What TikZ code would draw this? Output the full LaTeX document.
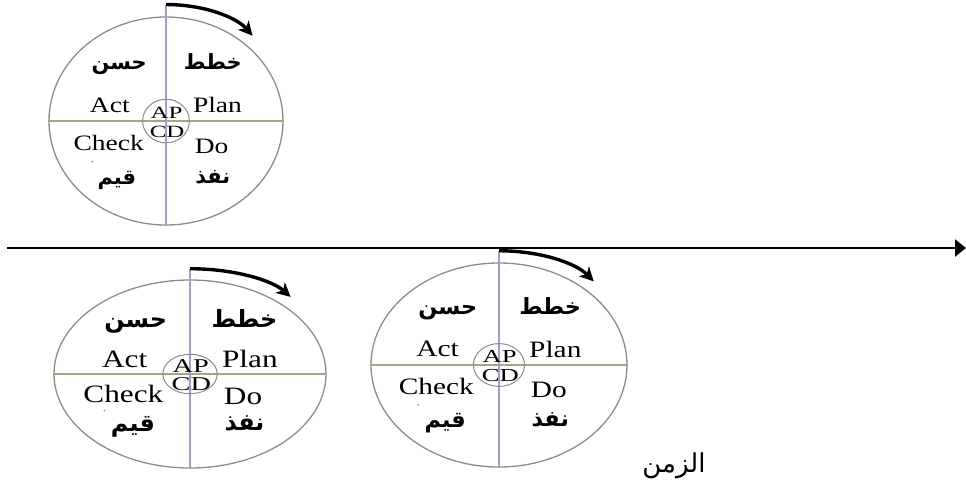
\documentclass[tikz,border=0pt]{standalone}
\usepackage{fontspec}
\usepackage{graphicx}
\usetikzlibrary{shapes.geometric,arrows.meta}
\setmainfont{Liberation Serif}
\newfontfamily\arabicfont[Script=Arabic]{DejaVu Sans}
\TeXXeTstate=1

\definecolor{rimgray}{RGB}{140,140,140}
\definecolor{axisolive}{RGB}{168,164,132}
\definecolor{axislilac}{RGB}{158,158,200}

\tikzset{
  rim/.style={ellipse, draw=rimgray, line width=1.3pt, inner sep=0pt},
  hub/.style={ellipse, draw=rimgray, line width=1pt, inner sep=0pt},
  hline/.style={draw=axisolive, line width=1.2pt},
  vline/.style={draw=axislilac, line width=1.3pt},
  turn/.style={line width=3.4pt, -{Stealth[length=14pt,width=14pt,inset=4pt]}},
  timeaxis/.style={line width=2.6pt, -{Triangle[length=11pt,width=17pt]}},
  word/.style={inner sep=0pt},
  arword/.style={inner sep=0pt, anchor=base},
}

% one Plan-Do-Check-Act wheel: name, centre x, centre y, radius x, radius y, font size
\newcommand\pdcawheel[6]{%
  \pgfmathsetmacro\pdcahubsize{0.78*#6}%
  \pgfmathsetmacro\pdcaarsize{0.95*#6}%
  \node[rim, minimum width={2*#4pt}, minimum height={2*#5pt}] (#1) at (#2,#3) {};
  \coordinate (#1-top) at (#2,{#3-1.12*#5});
  \coordinate (#1-tip) at ({#2+0.74*#4},{#3-0.82*#5});
  \draw[hline] (#1.west) -- (#1.east);
  \draw[vline] (#1-top) -- (#1.south);
  \draw[turn] (#1-top) .. controls ({#2+0.32*#4},{#3-1.12*#5}) and ({#2+0.6*#4},{#3-1.0*#5}) .. (#1-tip);
  \node[hub, minimum width={0.4*#4pt}, minimum height={0.42*#5pt}] (#1-hub) at (#1) {};
  \node[word, font=\fontsize{\pdcahubsize}{#6}\selectfont] (#1-ap) at ({#2+0.005*#4},{#3-0.082*#5}) {\scalebox{1.45}[1]{AP}};
  \node[word, font=\fontsize{\pdcahubsize}{#6}\selectfont] (#1-cd) at ({#2+0.01*#4},{#3+0.105*#5}) {\scalebox{1.45}[1]{CD}};
  \node[word, font=\fontsize{#6}{#6}\selectfont] (#1-act) at ({#2-0.48*#4},{#3-0.155*#5}) {\scalebox{1.25}[1]{Act}};
  \node[word, font=\fontsize{#6}{#6}\selectfont] (#1-plan) at ({#2+0.44*#4},{#3-0.155*#5}) {\scalebox{1.25}[1]{Plan}};
  \node[word, font=\fontsize{#6}{#6}\selectfont] (#1-check) at ({#2-0.49*#4},{#3+0.215*#5}) {\scalebox{1.25}[1]{Check}};
  \node[word, font=\fontsize{#6}{#6}\selectfont] (#1-do) at ({#2+0.39*#4},{#3+0.24*#5}) {\scalebox{1.25}[1]{Do}};
  \node[arword, font=\arabicfont\bfseries\fontsize{\pdcaarsize}{#6}\selectfont] (#1-ar-act) at ({#2-0.40*#4},{#3-0.50*#5}) {\beginR حسن\endR};
  \node[arword, font=\arabicfont\bfseries\fontsize{\pdcaarsize}{#6}\selectfont] (#1-ar-plan) at ({#2+0.40*#4},{#3-0.50*#5}) {\beginR خطط\endR};
  \node[arword, font=\arabicfont\bfseries\fontsize{\pdcaarsize}{#6}\selectfont] (#1-ar-check) at ({#2-0.42*#4},{#3+0.61*#5}) {\beginR قيم\endR};
  \node[arword, font=\arabicfont\bfseries\fontsize{\pdcaarsize}{#6}\selectfont] (#1-ar-do) at ({#2+0.40*#4},{#3+0.60*#5}) {\beginR نفذ\endR};
  \fill[black!50] ({#2-0.63*#4},{#3+0.39*#5}) circle (0.9);
}

\begin{document}
\begin{tikzpicture}[x=1pt, y=-1pt]
  \useasboundingbox (0,0) rectangle (966,491);
  % time axis
  \coordinate (t0) at (7,248);
  \coordinate (t1) at (966,248);
  \draw[timeaxis] (t0) -- (t1);
  % the three cycles
  \pdcawheel{w1}{166}{121}{117}{104}{22}
  \pdcawheel{w2}{190}{374}{136}{94}{25}
  \pdcawheel{w3}{499}{365}{128}{102}{23.5}
  % axis label
  \node[word, font=\arabicfont\fontsize{26}{26}\selectfont] (time) at (674,466) {\beginR الزمن\endR};
\end{tikzpicture}
\end{document}
